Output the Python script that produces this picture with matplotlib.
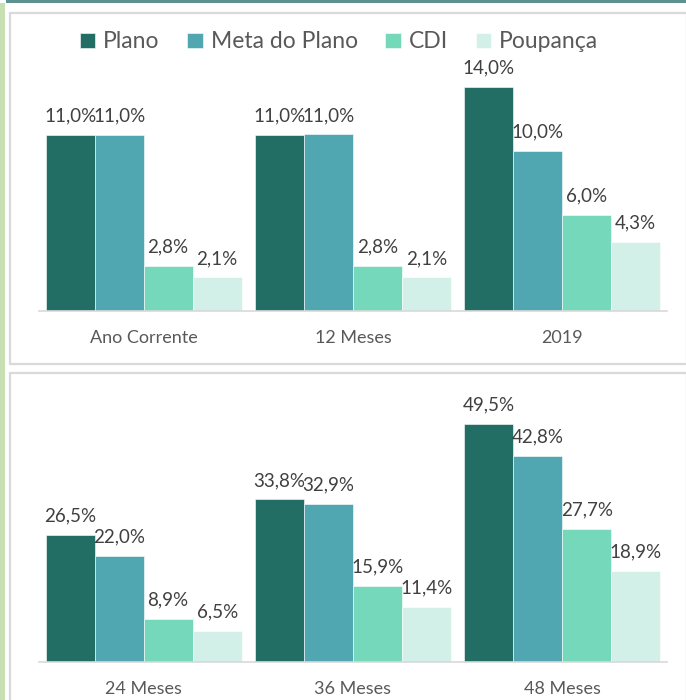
import matplotlib
matplotlib.use("Agg")
import matplotlib.pyplot as plt
from matplotlib.patches import Rectangle

plt.rcParams['font.family'] = ['Lato', 'DejaVu Sans']

series = ['Plano', 'Meta do Plano', 'CDI', 'Poupança']
colors = ['#226e64', '#50a7b1', '#75d8bb', '#d3f0e8']

top_cats = ['Ano Corrente', '12 Meses', '2019']
top_vals = [
    [11.0, 11.0, 14.0],
    [11.0, 11.04, 10.0],
    [2.8, 2.8, 6.0],
    [2.1, 2.1, 4.3],
]

bot_cats = ['24 Meses', '36 Meses', '48 Meses']
bot_vals = [
    [26.5, 33.8, 49.5],
    [22.0, 32.9, 42.8],
    [8.9, 15.9, 27.7],
    [6.5, 11.4, 18.9],
]

W, H = 686, 700
fig = plt.figure(figsize=(W / 100, H / 100), dpi=100)


def px_rect(x0, y0, x1, y1, **kw):
    r = Rectangle((x0 / W, 1 - y1 / H), (x1 - x0) / W, (y1 - y0) / H,
                  transform=fig.transFigure, **kw)
    fig.add_artist(r)


# decoration around the panels
px_rect(0, 3, 5, 700, facecolor='#c6e0b4', edgecolor='none')
px_rect(6, 0, 686, 3, facecolor='#5e9290', edgecolor='none')
px_rect(10, 13, 687, 364, facecolor='none', edgecolor='#d9d9d9', linewidth=1.6)
px_rect(10, 373, 687, 705, facecolor='none', edgecolor='#d9d9d9', linewidth=1.6)


def draw(ax, cats, vals, ymax):
    bw = 0.234
    bars = []
    for i, (name, col) in enumerate(zip(series, colors)):
        xs = [k + (i - 1.5) * bw for k in range(len(cats))]
        b = ax.bar(xs, vals[i], width=bw, color=col, edgecolor='white',
                   linewidth=0.4, label=name)
        bars.append(b)
        for x, v in zip(xs, vals[i]):
            ax.annotate(f"{v:.1f}%".replace('.', ','), (x, v),
                        xytext=(0, 7.5), textcoords='offset points',
                        ha='center', va='bottom', fontsize=13.5, color='#404040')
    ax.set_xlim(-0.5, len(cats) - 0.5)
    ax.set_ylim(0, ymax)
    ax.set_xticks(range(len(cats)))
    ax.set_xticklabels(cats, fontsize=13, color='#595959')
    ax.tick_params(axis='x', length=0, pad=14)
    ax.set_yticks([])
    for s in ['top', 'left', 'right']:
        ax.spines[s].set_visible(False)
    ax.spines['bottom'].set_color('#d9d9d9')
    ax.spines['bottom'].set_linewidth(1.2)
    ax.set_facecolor('none')
    return bars


# top panel: baseline at y=311 px, 16 px per percent
ax1 = fig.add_axes([39 / W, (H - 311) / H, 628 / W, 256 / H])
bars = draw(ax1, top_cats, top_vals, 16)

# bottom panel: baseline at y=662 px, ~4.81 px per percent
ax2 = fig.add_axes([39 / W, (H - 662) / H, 628 / W, 4.81 * 55 / H])
draw(ax2, bot_cats, bot_vals, 55)

leg = fig.legend(handles=bars, labels=series, loc='center',
                 bbox_to_anchor=(339 / W, 1 - 42 / H), ncol=4, frameon=False,
                 fontsize=16.5, handlelength=0.68, handleheight=0.68,
                 handletextpad=0.35, columnspacing=1.2, borderaxespad=0)
for t in leg.get_texts():
    t.set_color('#595959')

fig.savefig('out.png', dpi=100)
